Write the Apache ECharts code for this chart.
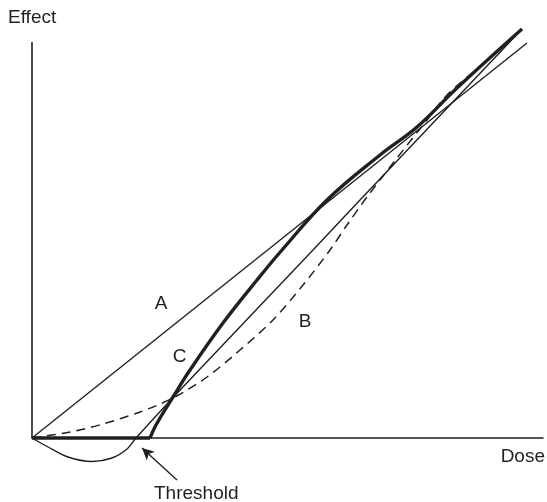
<!DOCTYPE html>
<html>
<head>
<meta charset="utf-8">
<script src="https://cdn.jsdelivr.net/npm/echarts@6/dist/echarts.min.js"></script>
<style>html,body{margin:0;padding:0;background:#fff}#c{width:547px;height:502px}</style>
</head>
<body>
<div id="c"></div>
<script>
// Dose (x) / Effect (y) values, arbitrary units
var lineA = [[0, 0], [9.9, 7.9]];
var curveB = [[0,0],[0.76,0.12],[1.42,0.28],[2.16,0.52],[2.82,0.80],[3.50,1.22],[4.16,1.76],[4.82,2.36],[5.42,3.06],[5.96,3.76],[6.30,4.26],[6.70,4.82],[7.30,5.60],[7.90,6.36],[8.30,6.86],[8.80,7.30]];
var curveCFlat = [[0,0],[2.36,0]];
var curveCRise = [[2.36,0],[2.48,0.26],[2.82,0.82],[3.16,1.36],[3.82,2.30],[4.50,3.16],[5.00,3.76],[5.90,4.76],[6.96,5.66],[7.70,6.22],[8.50,7.00],[9.80,8.18]];
var curveJ = [[0,0],[0.32,-0.18],[0.72,-0.38],[1.20,-0.47],[1.60,-0.40],[1.90,-0.22],[2.08,0],[3.0,1.0],[5.62,3.76],[6.56,4.76],[9.8,8.18]];
var yAxisLine = [[0,0],[0,7.92]];
var thresholdArrow = [[2.9,-0.84],[2.2,-0.2]];
var labels = [
  {text:'Effect', x:8, y:17.5, align:'left'},
  {text:'Dose', x:545, y:456.5, align:'right'},
  {text:'Threshold', x:154, y:494, align:'left'},
  {text:'A', x:161, y:303.5, align:'center'},
  {text:'B', x:305, y:322, align:'center'},
  {text:'C', x:179.5, y:357, align:'center'}
];

var ink = '#231f20';
var chart = echarts.init(document.getElementById('c'), null, {renderer:'canvas'});
function ln(data, width, extra) {
  var s = {type:'line', data:data, symbol:'none', silent:true,
    lineStyle:{color:ink, width:width}, z:3};
  for (var k in extra) s[k] = extra[k];
  return s;
}
chart.setOption({
  animation:false,
  grid:{left:32, width:511, top:18, height:470, containLabel:false},
  xAxis:{type:'value', min:0, max:10.22, axisLine:{show:true, onZero:true, lineStyle:{color:ink, width:1.6}},
    axisTick:{show:false}, axisLabel:{show:false}, splitLine:{show:false}},
  yAxis:{type:'value', min:-1, max:8.4, axisLine:{show:false}, axisTick:{show:false},
    axisLabel:{show:false}, splitLine:{show:false}},
  graphic: labels.map(function(l){
    return {type:'text', x:l.x, y:l.y, z:10, style:{text:l.text, fill:ink,
      font:'19px "Liberation Sans", Arial, sans-serif', textAlign:l.align, textVerticalAlign:'middle'}};
  }),
  series:[
    ln(yAxisLine, 1.6, {}),
    ln(lineA, 1.4, {}),
    ln(curveB, 1.5, {smooth:0.3, lineStyle:{color:ink, width:1.5, type:[9,6]}}),
    ln(curveJ, 1.4, {smooth:0.3}),
    ln(curveCFlat, 3.4, {}),
    ln(curveCRise, 3.4, {smooth:0.4}),
    ln(thresholdArrow, 1.4, {lineStyle:{width:0}, markLine:{silent:true, symbol:['none','arrow'], symbolSize:[9,12],
      label:{show:false}, lineStyle:{color:ink, width:1.4, type:'solid'},
      data:[[{coord:thresholdArrow[0]},{coord:thresholdArrow[1]}]]}})
  ]
});
</script>
</body>
</html>
